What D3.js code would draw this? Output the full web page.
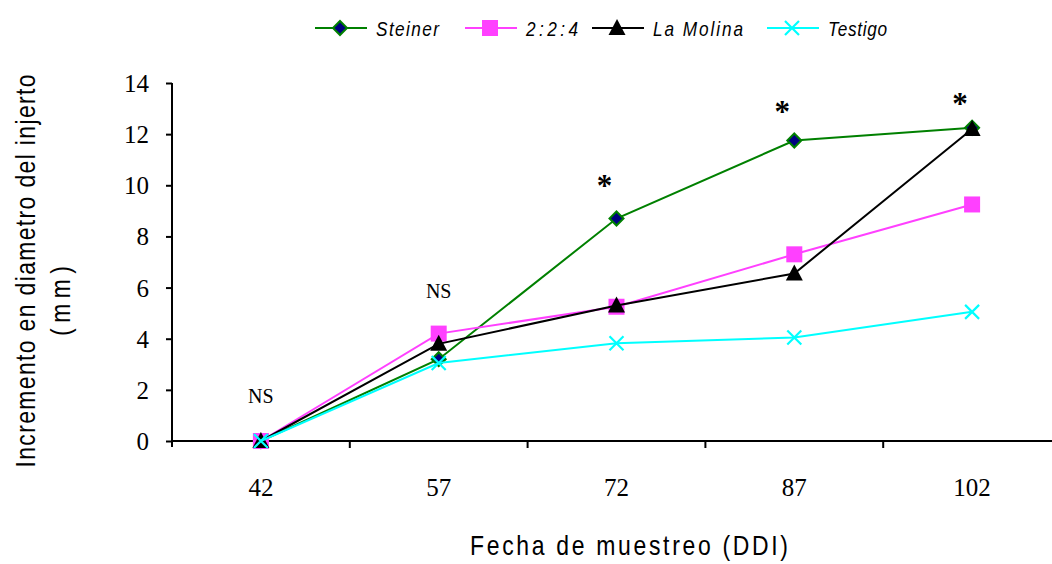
<!DOCTYPE html>
<html>
<head>
<meta charset="utf-8">
<script src="https://cdn.jsdelivr.net/npm/d3@7"></script>
<style>
  html, body { margin: 0; padding: 0; background: #fff; }
  svg { display: block; }
  .sans { font-family: "Liberation Sans", Arial, sans-serif; }
  .serif { font-family: "Liberation Serif", "Times New Roman", serif; }
</style>
</head>
<body>
<svg id="chart" width="1052" height="564"></svg>
<script>
// Sampling dates (days after grafting)
const days = ["42", "57", "72", "87", "102"];

// Graft diameter increment (mm) per nutrient solution
const steiner      = [0, 3.2, 8.7, 11.75, 12.25];
const dosDosCuatro = [0, 4.2, 5.25, 7.3, 9.25];
const laMolina     = [0, 3.8, 5.3, 6.55, 12.2];
const testigo      = [0, 3.05, 3.82, 4.05, 5.05];

const seriesNames = ["Steiner", "2:2:4", "La Molina", "Testigo"];
const yTicks = [0, 2, 4, 6, 8, 10, 12, 14];

// Significance marks above each date, with the level they sit at
const signifDays  = ["42", "57", "72", "87", "102"];
const signifText  = ["NS", "NS", "*", "*", "*"];
const signifLevel = [1.8, 5.9, 10.1, 13.0, 13.3];

const series = [
  { name: seriesNames[0], values: steiner,      color: "#008000", marker: "diamond" },
  { name: seriesNames[1], values: dosDosCuatro, color: "#ff40ff", marker: "square" },
  { name: seriesNames[2], values: laMolina,     color: "#000000", marker: "triangle" },
  { name: seriesNames[3], values: testigo,      color: "#00ffff", marker: "cross" }
];

const NARROW = 0.82; // horizontal squeeze for a narrow sans look

const svg = d3.select("#chart");

const x = d3.scaleBand().domain(days).range([172, 1061]).padding(0);
const y = d3.scaleLinear().domain([0, 14]).range([441, 83]);
const cx = d => x(d) + x.bandwidth() / 2;

// Y axis
const yAxis = svg.append("g")
  .attr("transform", "translate(172,0)")
  .call(d3.axisLeft(y).tickValues(yTicks).tickSize(6).tickPadding(17).tickSizeOuter(0));
yAxis.select(".domain").attr("stroke", "#000").attr("stroke-width", 2)
  .attr("d", `M0,${y(14)}V${y(0) + 6}`);
yAxis.selectAll(".tick line").attr("stroke", "#000").attr("stroke-width", 2);
yAxis.selectAll(".tick text")
  .attr("class", "serif").attr("font-size", 25).attr("fill", "#000")
  .attr("dy", "0.34em");

// X axis: line, ticks at category boundaries, labels at category centres
const xg = svg.append("g");
xg.append("line")
  .attr("x1", 172).attr("x2", 1052)
  .attr("y1", y(0)).attr("y2", y(0))
  .attr("stroke", "#000").attr("stroke-width", 2);
xg.selectAll("line.xt").data(days.slice(1)).join("line")
  .attr("class", "xt")
  .attr("x1", d => x(d)).attr("x2", d => x(d))
  .attr("y1", y(0)).attr("y2", y(0) + 7)
  .attr("stroke", "#000").attr("stroke-width", 2);
xg.selectAll("text.xl").data(days).join("text")
  .attr("class", "xl serif")
  .attr("x", d => cx(d)).attr("y", 496)
  .attr("text-anchor", "middle").attr("font-size", 25).attr("fill", "#000")
  .text(d => d);

// Axis titles (drawn squeezed horizontally)
svg.append("text")
  .attr("class", "sans")
  .attr("transform", `translate(629,555) scale(${NARROW},1)`)
  .attr("text-anchor", "middle").attr("font-size", 28)
  .attr("textLength", 318 / NARROW).attr("lengthAdjust", "spacing")
  .text("Fecha de muestreo (DDI)");

const yTitle = svg.append("g").attr("class", "sans").attr("font-size", 28);
yTitle.append("text")
  .attr("transform", `translate(35,271) rotate(-90) scale(${NARROW},1)`)
  .attr("text-anchor", "middle")
  .attr("textLength", 393 / NARROW).attr("lengthAdjust", "spacing")
  .text("Incremento en diametro del injerto");
yTitle.append("text")
  .attr("transform", `translate(70,301) rotate(-90) scale(${NARROW},1)`)
  .attr("text-anchor", "middle")
  .attr("textLength", 70 / NARROW).attr("lengthAdjust", "spacing")
  .text("(mm)");

// Marker drawing
function drawMarker(sel, type, color) {
  if (type === "diamond") {
    sel.append("path").attr("d", "M0,-7L7,0L0,7L-7,0Z")
      .attr("fill", "#000080").attr("stroke", color).attr("stroke-width", 2);
  } else if (type === "square") {
    sel.append("rect").attr("x", -8).attr("y", -8).attr("width", 16).attr("height", 16)
      .attr("fill", color);
  } else if (type === "triangle") {
    sel.append("path").attr("d", "M0,-9L8.5,7L-8.5,7Z").attr("fill", color);
  } else if (type === "cross") {
    sel.append("path").attr("d", "M-7,-7L7,7M-7,7L7,-7")
      .attr("stroke", color).attr("stroke-width", 2.2).attr("fill", "none");
  }
}

// Lines and markers
const line = d3.line().x((d, i) => cx(days[i])).y(d => y(d));
series.forEach(s => {
  const g = svg.append("g");
  g.append("path").datum(s.values)
    .attr("d", line).attr("fill", "none")
    .attr("stroke", s.color).attr("stroke-width", 2);
  s.values.forEach((v, i) => {
    const m = g.append("g").attr("transform", `translate(${cx(days[i])},${y(v)})`);
    drawMarker(m, s.marker, s.color);
  });
});

// Significance labels
signifDays.forEach((d, i) => {
  const t = signifText[i];
  const isStar = t === "*";
  svg.append("text")
    .attr("class", "serif")
    .attr("x", cx(d) + (isStar ? -12 : 0))
    .attr("y", y(signifLevel[i]) + (isStar ? 13 : 8))
    .attr("text-anchor", "middle")
    .attr("font-size", isStar ? 31 : 20)
    .attr("font-weight", isStar ? "bold" : "normal")
    .attr("fill", "#000")
    .text(t);
});

// Legend
const legendX = [315, 465, 592, 767];
const legendTextLen = [63, 52, 90, 59];
const legend = svg.append("g").attr("transform", "translate(0,28)");
series.forEach((s, i) => {
  const g = legend.append("g").attr("transform", `translate(${legendX[i]},0)`);
  g.append("line").attr("x1", 0).attr("x2", 52).attr("stroke", s.color).attr("stroke-width", 2);
  const m = g.append("g").attr("transform", "translate(25,0)");
  drawMarker(m, s.marker, s.color);
  g.append("text")
    .attr("class", "sans")
    .attr("transform", `translate(61,8) scale(${NARROW},1)`)
    .attr("font-size", 21).attr("font-style", "italic")
    .attr("textLength", legendTextLen[i] / NARROW).attr("lengthAdjust", "spacing")
    .text(s.name);
});
</script>
</body>
</html>
